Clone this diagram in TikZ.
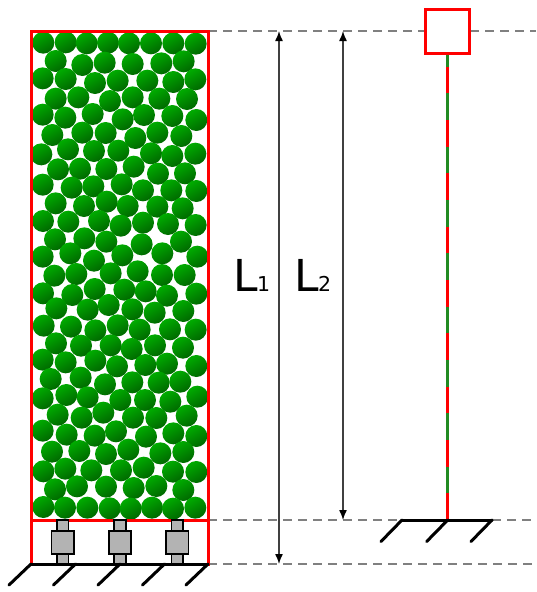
\documentclass[tikz,border=0pt]{standalone}
\usepackage{fontspec}
\setmainfont{DejaVu Sans}
\usetikzlibrary{arrows.meta}
\definecolor{redline}{RGB}{255,0,0}
\definecolor{memb}{RGB}{34,139,34}
\definecolor{dashgray}{RGB}{128,128,128}
\definecolor{dimcol}{RGB}{64,64,64}
\definecolor{suppgray}{RGB}{179,179,179}
\definecolor{ballhi}{RGB}{0,172,0}
\definecolor{balllo}{RGB}{0,104,0}
\tikzset{
  redbox/.style={draw=redline,line width=3pt},
  guide/.style={draw=dashgray,line width=1.5pt,dash pattern=on 9pt off 6pt},
  dimline/.style={draw=dimcol,line width=1.4pt,{Latex[length=10pt,width=8pt,black]}-{Latex[length=10pt,width=8pt,black]}},
  groundline/.style={draw=black,line width=3pt,line cap=round},
  suppbox/.style={draw=black,line width=1.8pt,fill=suppgray},
  ballshade/.style={draw=none,top color=ballhi,bottom color=balllo,shading angle=30},
  bigL/.style={font=\fontsize{44pt}{44pt}\selectfont,inner sep=0pt,anchor=base west,text=black},
  subL/.style={font=\fontsize{20.5pt}{20.5pt}\selectfont,inner sep=0pt,anchor=base west,text=black},
}
\begin{document}
\begin{tikzpicture}[x=1pt,y=-1pt]
\useasboundingbox (0,0) rectangle (536,592);
% coordinates
\coordinate (tl) at (31,31);
\coordinate (tr) at (208,31);
\coordinate (ml) at (31,520);
\coordinate (mr) at (208,520);
\coordinate (bl) at (31,564);
\coordinate (br) at (208,564);
\coordinate (d1t) at (279,31);
\coordinate (d1b) at (279,564);
\coordinate (d2t) at (343,31);
\coordinate (d2b) at (343,520);
\coordinate (gl) at (402,520);
\coordinate (gr) at (492,520);
% guides
\draw[guide] (tr) -- (425,31);
\draw[guide] (470,31) -- (536,31);
\draw[guide] (mr) -- (gl);
\draw[guide] (gr) -- (536,520);
\draw[guide] (br) -- (536,564);
% balls (coordinates in 3x zoom units)
\foreach \x/\y in {
130/128,197/127,260/130,324/128,387/130,453/130,520/130,587/131,
167/183,247/195,314/188,398/192,484/190,551/184,
128/235,197/237,285/249,353/242,442/242,520/246,586/238,
167/296,235/292,330/303,398/292,478/296,561/297,
128/344,196/353,278/342,368/358,432/345,517/348,589/360,
157/405,247/398,317/399,406/414,472/398,544/408,
124/463,204/448,282/453,355/452,453/460,517/468,586/461,
174/508,240/506,319/507,401/500,474/521,555/520,
128/554,215/563,280/559,365/553,429/571,514/571,589/573,
167/610,252/618,320/605,383/618,472/620,548/625,
129/663,205/665,297/663,362/677,429/668,504/672,587/675,
165/718,253/715,319/725,425/733,543/725,
128/770,211/760,282/782,367/766,487/760,592/770,
163/827,229/822,332/820,413/814,486/825,554/825,
129/880,217/885,284/867,373/869,437/874,501/887,589/881,
169/925,263/929,326/915,397/928,464/938,550/933,
131/977,213/980,286/991,353/976,419/989,510/988,587/989,
168/1030,243/1037,332/1036,395/1047,465/1036,549/1043,
128/1079,197/1087,286/1082,351/1099,436/1095,501/1091,589/1098,
152/1137,242/1133,315/1153,397/1147,476/1148,541/1145,
128/1195,199/1185,263/1192,361/1200,435/1200,511/1205,592/1190,
173/1244,245/1253,310/1238,399/1253,469/1254,560/1247,
128/1292,200/1304,284/1307,348/1294,438/1310,520/1300,589/1308,
156/1355,238/1353,318/1362,385/1349,481/1360,550/1356,
130/1414,196/1406,274/1411,363/1411,431/1403,519/1415,589/1416,
165/1468,231/1459,318/1460,401/1464,469/1458,550/1470,
130/1521,195/1523,262/1523,329/1525,392/1526,456/1523,519/1526,586/1523}
  {\shade[ballshade] (\x/3,\y/3) circle (11);}
% left frame
\draw[redbox] (tl) rectangle (br);
\draw[redbox] (ml) -- (mr);
% supports
\foreach \cx in {62.7,120,177.3}{
  \draw[suppbox] (\cx-5.8,520) rectangle (\cx+5.8,531);
  \draw[suppbox] (\cx-5.8,554) rectangle (\cx+5.8,564);
  \draw[suppbox] (\cx-11.2,531) rectangle (\cx+11.2,554);
}
% left ground
\draw[groundline] (bl) -- (br);
\foreach \hx in {31,75.5,120,164.5,208}
  \draw[groundline] (\hx,564) -- (\hx-22,585);
% dimensions
\draw[dimline] (d1t) -- (d1b);
\draw[dimline] (d2t) -- (d2b);
\node[bigL] (L1) at (233,291.7) {L};
\node[subL] (s1) at (257,291.7) {1};
\node[bigL] (L2) at (294.5,291.7) {L};
\node[subL] (s2) at (318,291.7) {2};
% column
\foreach \i in {0,...,17}{
  \pgfmathtruncatemacro{\odd}{mod(\i,2)}
  \pgfmathsetmacro{\ya}{66.7+26.67*(\i-1)}
  \pgfmathsetmacro{\yb}{\ya+26.67}
  \ifnum\odd=0\relax\def\cc{memb}\else\def\cc{redline}\fi
  \ifnum\i=0\relax\draw[memb,line width=3pt] (447.7,53) -- (447.7,66.7);
  \else\draw[\cc,line width=3pt] (447.7,\ya) -- (447.7,\yb);\fi
}
\node[redbox,minimum size=44pt,inner sep=0pt] (topbox) at (447.8,31) {};
% right ground
\draw[groundline] (gl) -- (gr);
\foreach \hx in {402,447.7,492}
  \draw[groundline] (\hx,520) -- (\hx-21,541.5);
\end{tikzpicture}
\end{document}
